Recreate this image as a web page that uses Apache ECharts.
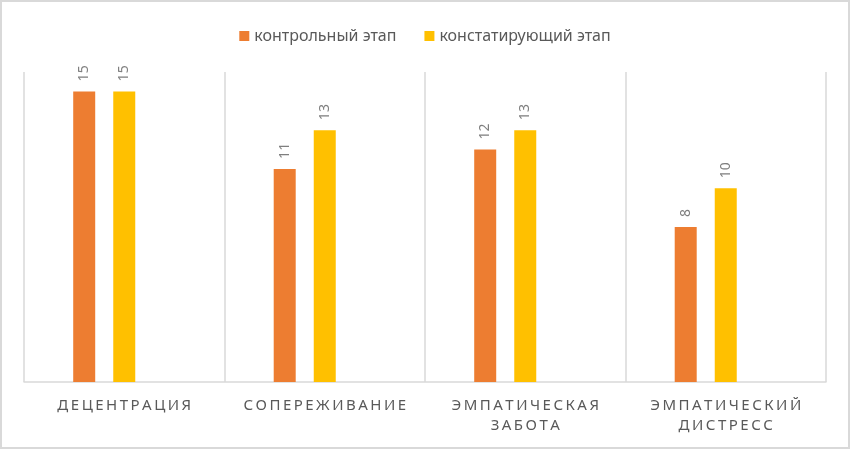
<!DOCTYPE html>
<html>
<head>
<meta charset="utf-8">
<script src="https://cdn.jsdelivr.net/npm/echarts@6/dist/echarts.min.js"></script>
<style>
  html, body { margin: 0; padding: 0; background: #fff; }
  #chart { width: 850px; height: 449px; box-sizing: border-box; border: 2px solid #d9d9d9; }
</style>
</head>
<body>
<div id="chart"></div>
<script>
var categories = ['ДЕЦЕНТРАЦИЯ', 'СОПЕРЕЖИВАНИЕ', 'ЭМПАТИЧЕСКАЯ\nЗАБОТА', 'ЭМПАТИЧЕСКИЙ\nДИСТРЕСС'];
var seriesNames = ['контрольный этап', 'констатирующий этап'];
var controlValues = [15, 11, 12, 8];
var statingValues = [15, 13, 13, 10];

// spread letters like Excel's letter spacing
function spaced(s) {
    return s.split('\n').map(function (line) {
        return line.split('').join('\u2009');
    }).join('\n');
}

var chart = echarts.init(document.getElementById('chart'));

var labelOpt = {
    show: true,
    position: 'top',
    rotate: 90,
    align: 'left',
    verticalAlign: 'middle',
    distance: 10,
    color: '#7f7f7f',
    fontSize: 14,
    fontFamily: 'Noto Sans'
};

option = {
    animation: false,
    textStyle: { fontFamily: 'Noto Sans' },
    legend: {
        data: seriesNames,
        top: 21,
        left: 'center',
        itemWidth: 10,
        itemHeight: 10,
        itemGap: 28,
        icon: 'rect',
        textStyle: { color: '#595959', fontSize: 16 }
    },
    grid: { left: 22, right: 22, top: 70, bottom: 65, containLabel: false },
    xAxis: {
        type: 'category',
        data: categories,
        boundaryGap: true,
        axisLine: { show: true, lineStyle: { color: '#d9d9d9', width: 1.5 } },
        axisTick: { show: false },
        splitLine: { show: true, interval: 0, lineStyle: { color: '#d9d9d9', width: 1.5 } },
        axisLabel: {
            interval: 0,
            color: '#595959',
            fontSize: 15,
            lineHeight: 20,
            margin: 14,
            formatter: spaced
        }
    },
    yAxis: {
        type: 'value',
        min: 0,
        max: 16,
        show: false,
        splitLine: { show: false }
    },
    series: [
        {
            name: seriesNames[0],
            type: 'bar',
            data: controlValues,
            barWidth: 22,
            barGap: '82%',
            itemStyle: { color: '#ed7d31' },
            label: labelOpt
        },
        {
            name: seriesNames[1],
            type: 'bar',
            data: statingValues,
            barWidth: 22,
            barGap: '82%',
            itemStyle: { color: '#ffc000' },
            label: labelOpt
        },
        {
            // empty third slot, keeps the bars shifted left like the original
            name: 'empty',
            type: 'bar',
            data: ['-', '-', '-', '-'],
            barWidth: 22,
            barGap: '82%',
            itemStyle: { color: 'transparent' }
        }
    ]
};

chart.setOption(option);
</script>
</body>
</html>
